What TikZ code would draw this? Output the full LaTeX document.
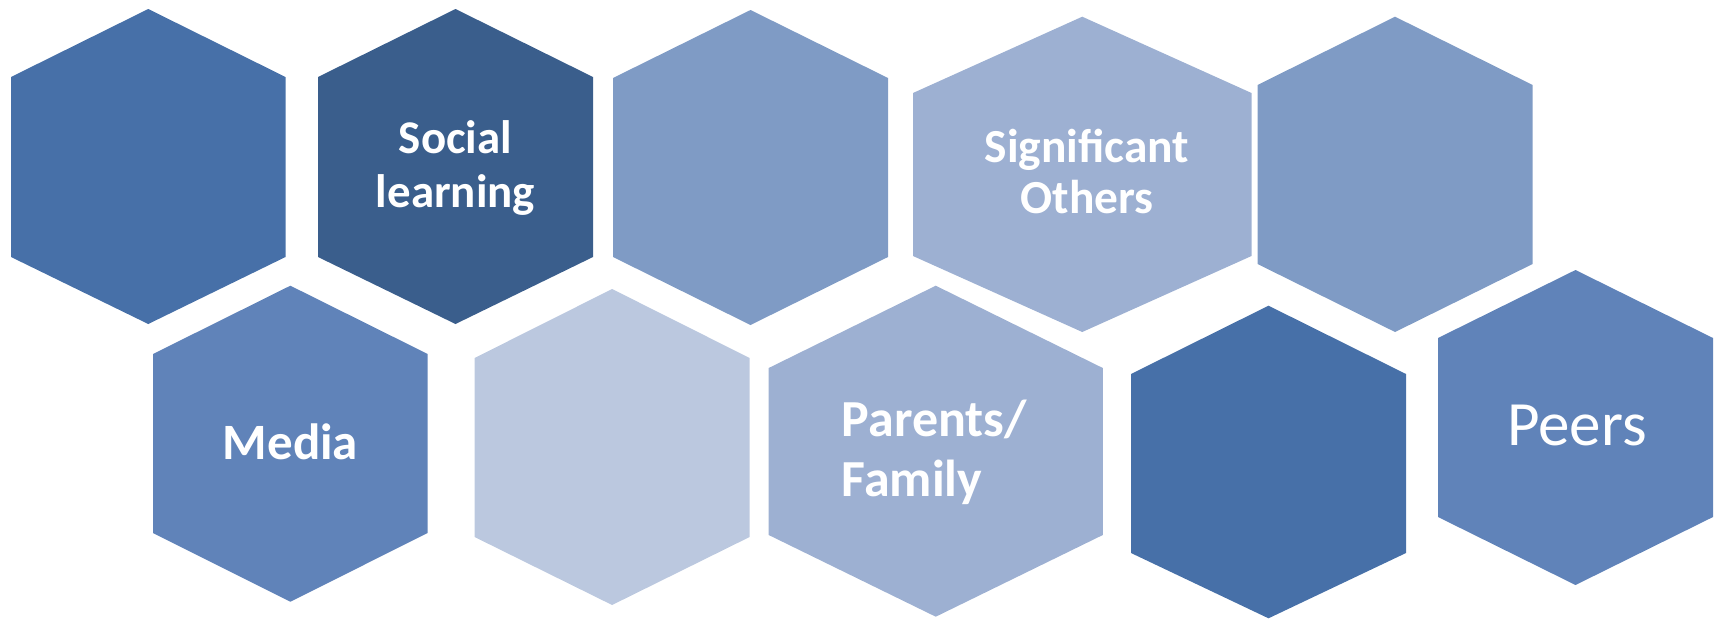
\documentclass[tikz,border=0pt]{standalone}
\usepackage{fontspec}
\setmainfont{Carlito}
\usepackage{tikz}
\usetikzlibrary{positioning}

\definecolor{hexnavy}{HTML}{3A5E8C}
\definecolor{hexblue}{HTML}{4770A8}
\definecolor{hexmid}{HTML}{6083B9}
\definecolor{hexsoft}{HTML}{7F9BC5}
\definecolor{hexpale}{HTML}{9DB0D2}
\definecolor{hexmist}{HTML}{BBC8DF}

% colour, left, right, top, upper shoulder, lower shoulder, bottom
\newcommand{\hexcell}[7]{%
\fill[#1] (#2,#5) -- ({(#2+#3)/2},#4) -- (#3,#5) -- (#3,#6) -- ({(#2+#3)/2},#7) -- (#2,#6) -- cycle;%
}

\begin{document}
\begin{tikzpicture}[
x=0.02cm, y=-0.02cm,
boldlabel/.style 2 args={text=white, inner sep=0pt, align=center, font=\bfseries\fontsize{#1}{#2}\selectfont},
plainlabel/.style 2 args={text=white, inner sep=0pt, align=center, font=\fontsize{#1}{#2}\selectfont},
]
\useasboundingbox (0,0) rectangle (1723,619);

%Top row
\hexcell{hexblue}{11}{285.5}{9}{77}{257}{324}
\hexcell{hexnavy}{318}{593}{9}{77}{257}{324}
\hexcell{hexsoft}{613}{888}{10}{78}{257}{325}
\hexcell{hexpale}{913}{1251.5}{16.7}{93}{256}{332}
\hexcell{hexsoft}{1257.5}{1532.6}{16.7}{85}{264}{332}

%Bottom row
\hexcell{hexmid}{153}{427.7}{285.7}{354}{533}{601.7}
\hexcell{hexmist}{474.6}{749.6}{289}{358}{537}{605}
\hexcell{hexpale}{768.7}{1102.8}{285.7}{368}{535}{616.7}
\hexcell{hexblue}{1131}{1406}{305.7}{374}{553}{618.3}
\hexcell{hexmid}{1438}{1713}{270}{338}{517}{585}

%Labels (base = last line)
\node[boldlabel={26.7pt}{30.2pt}, anchor=base]  (social)  at (455.5,207)  {Social\\learning};
\node[boldlabel={27pt}{29pt}, anchor=base]      (signif)  at (1087,213)   {Significant\\Others};
\node[boldlabel={29pt}{33pt}, anchor=base]      (media)   at (290.5,459)  {Media};
\node[boldlabel={29.6pt}{33.6pt}, anchor=base west, align=left] (parents) at (841.4,496) {Parents/\\Family};
\node[plainlabel={35.9pt}{40pt}, anchor=base]   (peers)   at (1577,445.7) {Peers};
\end{tikzpicture}
\end{document}
